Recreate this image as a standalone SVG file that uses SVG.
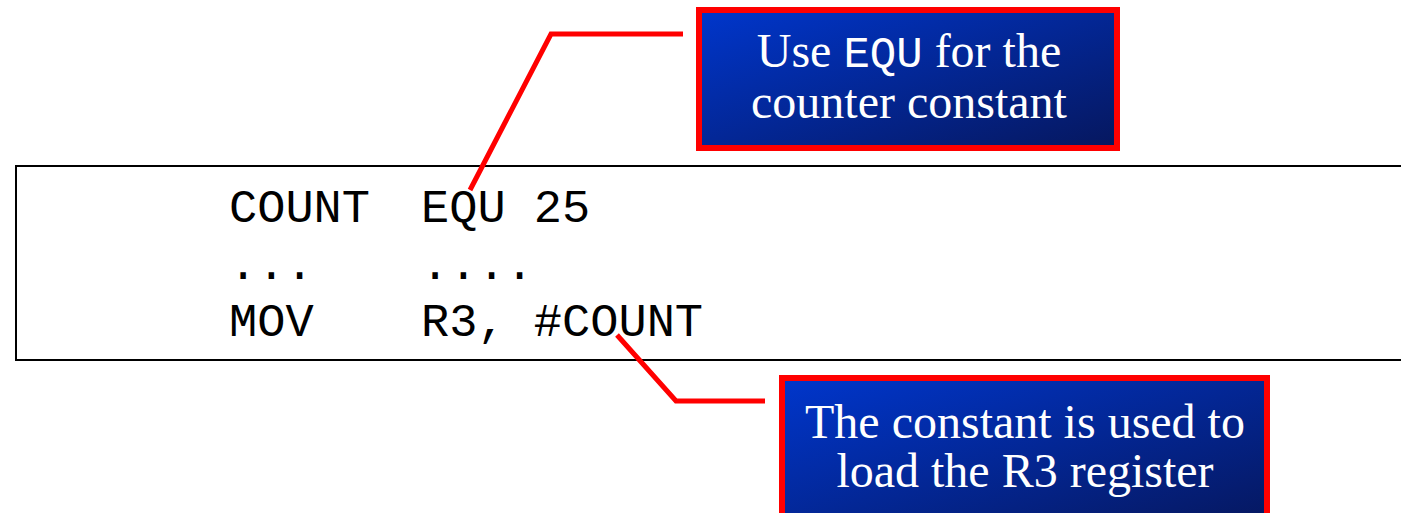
<svg xmlns="http://www.w3.org/2000/svg" width="1401" height="513" viewBox="0 0 1401 513">
  <style>
    .code { font-family: "Liberation Mono", "Courier New", monospace; font-size: 47px; fill: #000; }
    .note { font-family: "Liberation Serif", "Times New Roman", serif; font-size: 48px; fill: #fff; text-anchor: middle; }
    .mono { font-family: "Liberation Mono", "Courier New", monospace; font-size: 44px; }
    .callout { fill: url(#blueFill); stroke: #ff0000; stroke-width: 6; }
    .leader { fill: none; stroke: #ff0000; stroke-width: 5; stroke-linejoin: miter; }
  </style>
  <defs>
    <linearGradient id="blueFill" x1="0" y1="0" x2="1" y2="1">
      <stop offset="0" stop-color="#0036cc"/>
      <stop offset="1" stop-color="#06175e"/>
    </linearGradient>
  </defs>
  <rect width="1401" height="513" fill="#fff"/>

  <!-- code listing -->
  <g id="code-listing">
    <rect x="16" y="166" width="1400" height="194" fill="#fff" stroke="#000" stroke-width="2"/>
    <text class="code" x="229" y="222">COUNT</text>
    <text class="code" x="421" y="222">EQU 25</text>
    <text class="code" x="229" y="279">...</text>
    <text class="code" x="421" y="279">....</text>
    <text class="code" x="229" y="336">MOV</text>
    <text class="code" x="421" y="336">R3, #COUNT</text>
  </g>

  <!-- leader lines -->
  <g id="connectors">
    <polyline class="leader" points="470,190 551,34 683,34"/>
    <polyline class="leader" points="617,335 676,401 765,401"/>
  </g>

  <!-- callout: EQU -->
  <g id="note-equ">
    <rect class="callout" x="699" y="10" width="418" height="138"/>
    <text class="note" x="909" y="67">Use <tspan class="mono">EQU</tspan> for the<tspan x="909" y="118">counter constant</tspan></text>
  </g>

  <!-- callout: register load -->
  <g id="note-load">
    <rect class="callout" x="782" y="378" width="485" height="150"/>
    <text class="note" x="1025" y="438">The constant is used to<tspan x="1025" y="487">load the R3 register</tspan></text>
  </g>
</svg>
